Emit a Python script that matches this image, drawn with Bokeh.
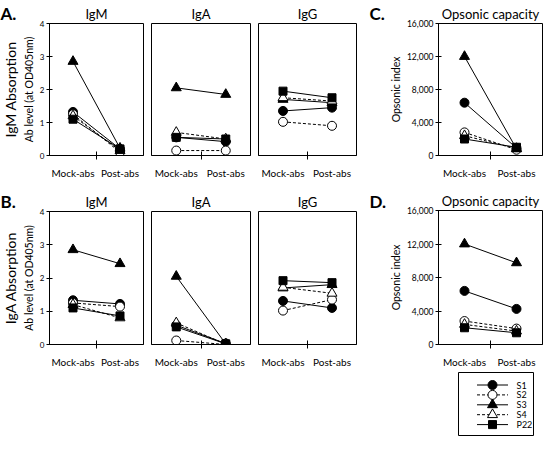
import math
from bokeh.plotting import figure
from bokeh.layouts import row, column, Spacer
from bokeh.models import Range1d, FixedTicker, NumeralTickFormatter
from bokeh.core.properties import value
from bokeh.embed import file_html
from bokeh.resources import INLINE

FONT = "Lato"

conditions = ["Mock-abs", "Post-abs"]
series = ["S1", "S2", "S3", "S4", "P22"]
series_markers = ["circle", "circle", "triangle", "triangle", "square"]
series_fill = ["black", "white", "black", "white", "black"]
series_dash = ["solid", "3 2", "solid", "3 2", "solid"]
series_size = [9, 9, 10, 10, 8]

ab_ticks = [0, 1, 2, 3, 4]
opso_ticks = [0, 4000, 8000, 12000, 16000]

# Values in series order: S1, S2, S3, S4, P22
# Row A: IgM absorption
a_igm_mock = [1.32, 1.25, 2.85, 1.20, 1.10]
a_igm_post = [0.20, 0.10, 0.22, 0.15, 0.20]
a_iga_mock = [0.55, 0.15, 2.05, 0.70, 0.55]
a_iga_post = [0.42, 0.15, 1.85, 0.50, 0.50]
a_igg_mock = [1.35, 1.02, 1.70, 1.75, 1.95]
a_igg_post = [1.45, 0.90, 1.60, 1.65, 1.75]
c_opso_mock = [6400, 2800, 12000, 2400, 2000]
c_opso_post = [900, 700, 800, 850, 1000]
# Row B: IgA absorption
b_igm_mock = [1.33, 1.25, 2.85, 1.20, 1.10]
b_igm_post = [1.22, 1.14, 2.43, 0.80, 0.86]
b_iga_mock = [0.58, 0.12, 2.05, 0.65, 0.53]
b_iga_post = [0.03, 0.00, 0.02, 0.01, 0.02]
b_igg_mock = [1.31, 1.02, 1.70, 1.72, 1.92]
b_igg_post = [1.10, 1.35, 1.80, 1.54, 1.86]
d_opso_mock = [6400, 2800, 12000, 2400, 2000]
d_opso_post = [4250, 1900, 9750, 1600, 1400]

xs = [i + 0.5 for i in range(len(conditions))]


def make_panel(title, mock, post, w, h, bl, br, bt, bb, ymax,
               yticks=None, fmt=None, ylabel=None, tick_font="9px"):
    p = figure(width=w, height=h, x_range=Range1d(0, len(conditions)),
               y_range=Range1d(0, ymax), output_backend="svg",
               toolbar_location=None, min_border_left=bl, min_border_right=br,
               min_border_top=bt, min_border_bottom=bb,
               y_axis_location="left" if yticks is not None else None)
    p.xgrid.visible = False
    p.ygrid.visible = False
    p.outline_line_color = "black"
    p.outline_line_alpha = 1.0
    p.outline_line_width = 1
    p.background_fill_color = "white"
    p.border_fill_color = "white"

    p.title.text = title
    p.title.align = "center"
    p.title.text_font = FONT
    p.title.text_font_size = "13px"
    p.title.text_font_style = "normal"
    p.title.text_color = "black"
    p.title.standoff = 4

    xa = p.xaxis[0]
    xa.ticker = FixedTicker(ticks=xs, minor_ticks=[1.0])
    xa.major_label_overrides = {x: c for x, c in zip(xs, conditions)}
    xa.major_tick_line_color = None
    xa.minor_tick_line_color = "black"
    xa.minor_tick_in = 4
    xa.minor_tick_out = 4
    xa.axis_line_color = "black"
    xa.major_label_text_font = FONT
    xa.major_label_text_font_size = "10px"
    xa.major_label_text_color = "black"
    xa.major_label_standoff = 5

    if yticks is not None:
        ya = p.yaxis[0]
        ya.ticker = FixedTicker(ticks=yticks, minor_ticks=[])
        ya.major_tick_in = 3
        ya.major_tick_out = 3
        ya.major_tick_line_color = "black"
        ya.minor_tick_line_color = None
        ya.axis_line_color = "black"
        ya.major_label_text_font = FONT
        ya.major_label_text_font_size = tick_font
        ya.major_label_text_color = "black"
        ya.major_label_standoff = 2
        if fmt is not None:
            ya.formatter = fmt
        if ylabel:
            ya.axis_label = ylabel
            ya.axis_label_text_font = FONT
            ya.axis_label_text_font_size = "10.5px"
            ya.axis_label_text_font_style = "normal"
            ya.axis_label_text_color = "black"
            ya.axis_label_standoff = 2

    for i, s in enumerate(series):
        ys = [mock[i], post[i]]
        p.line(xs, ys, line_color="black", line_width=1, line_dash=series_dash[i])
        p.scatter(xs, ys, marker=series_markers[i], size=series_size[i],
                  fill_color=series_fill[i], line_color="black", line_width=1)
    return p


def strip(w, h, letter, offset, bt, bb, ytitle=None):
    """Narrow text-only canvas: panel letter as its title, optional row title."""
    s = figure(width=w, height=h, x_range=Range1d(0, 1), y_range=Range1d(0, 1),
               output_backend="svg", toolbar_location=None,
               min_border_left=0, min_border_right=0,
               min_border_top=bt, min_border_bottom=bb,
               x_axis_location=None, y_axis_location=None)
    s.xgrid.visible = False
    s.ygrid.visible = False
    s.outline_line_color = None
    s.background_fill_color = "white"
    s.border_fill_color = "white"
    s.title.text = letter
    s.title.align = "left"
    s.title.offset = offset
    s.title.standoff = 0
    s.title.text_font = FONT
    s.title.text_font_size = "17px"
    s.title.text_font_style = "bold"
    s.title.text_color = "black"
    if ytitle:
        s.text([0.55], [0.5], text=[ytitle], angle=math.pi / 2,
               text_font=value(FONT), text_font_size="14px",
               text_baseline="middle", text_align="center", text_color="black")
    return s


# ---------------- Top row ----------------
H1 = 188
s1 = strip(19, H1, "A.", 0, 20, 33, "IgM Absorption")
f1 = make_panel("IgM", a_igm_mock, a_igm_post, 128, H1, 23, 4, 20, 33, 4,
                yticks=ab_ticks, ylabel="Ab level (at OD405nm)", tick_font="8px")
f2 = make_panel("IgA", a_iga_mock, a_iga_post, 107, H1, 4, 4, 20, 33, 4)
f3 = make_panel("IgG", a_igg_mock, a_igg_post, 106, H1, 4, 4, 20, 33, 4)
s4 = strip(26, H1, "C.", 9, 20, 33)
f4 = make_panel("Opsonic capacity", c_opso_mock, c_opso_post, 158, H1, 42, 2, 20, 33, 16000,
                yticks=opso_ticks, fmt=NumeralTickFormatter(format="0,0"),
                ylabel="Opsonic index", tick_font="8.5px")

# ---------------- Bottom row ----------------
H2 = 196
s5 = strip(19, H2, "B.", 0, 17, 35, "IgA Absorption")
f5 = make_panel("IgM", b_igm_mock, b_igm_post, 128, H2, 23, 4, 20, 40, 4,
                yticks=ab_ticks, ylabel="Ab level (at OD405nm)", tick_font="8px")
f6 = make_panel("IgA", b_iga_mock, b_iga_post, 107, H2, 4, 4, 20, 40, 4)
f7 = make_panel("IgG", b_igg_mock, b_igg_post, 106, H2, 4, 4, 20, 40, 4)
s8 = strip(26, H2, "D.", 9, 17, 35)
f8 = make_panel("Opsonic capacity", d_opso_mock, d_opso_post, 158, 184, 42, 2, 20, 28, 16000,
                yticks=opso_ticks, fmt=NumeralTickFormatter(format="0,0"),
                ylabel="Opsonic index", tick_font="8.5px")

# ---------------- Legend box drawn from the series list ----------------
LW, LH = 76, 64
leg = figure(width=LW, height=LH, x_range=Range1d(0, LW), y_range=Range1d(0, LH),
             output_backend="svg", toolbar_location=None, min_border=0,
             x_axis_location=None, y_axis_location=None)
leg.xgrid.visible = False
leg.ygrid.visible = False
leg.outline_line_color = "black"
leg.outline_line_width = 1
step = 9.9
for i, s in enumerate(series):
    yy = LH - 12.5 - i * step
    leg.line([18.5, 49.5], [yy, yy], line_color="black", line_width=1, line_dash=series_dash[i])
    leg.scatter([34], [yy], marker=series_markers[i], size=series_size[i],
                fill_color=series_fill[i], line_color="black", line_width=1)
    leg.text([58], [yy], text=[s], text_font=value(FONT), text_font_size="9px",
             text_baseline="middle", text_align="left", text_color="black")

layout = column(
    row(s1, f1, f2, f3, s4, f4),
    row(s5, f5, f6, f7, s8, column(f8, row(Spacer(width=72, height=LH), leg))),
)

open("out.html", "w").write(file_html(layout, INLINE))
